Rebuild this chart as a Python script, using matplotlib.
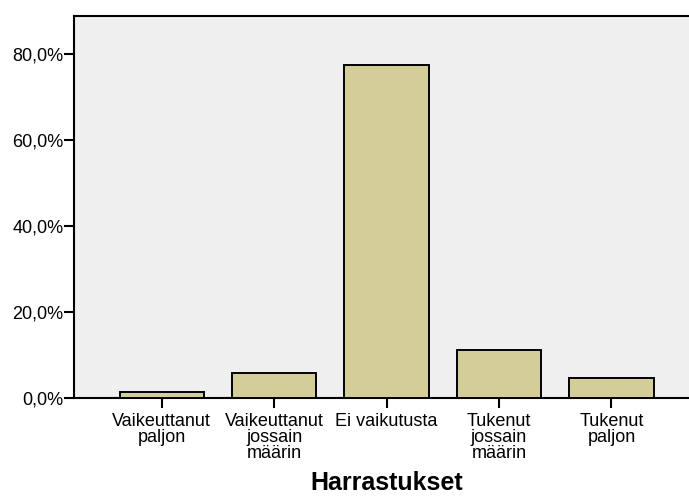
import matplotlib
matplotlib.use("Agg")
import matplotlib.pyplot as plt
from matplotlib.ticker import FuncFormatter

categories = ["Vaikeuttanut\npaljon", "Vaikeuttanut\njossain\nmäärin", "Ei vaikutusta",
              "Tukenut\njossain\nmäärin", "Tukenut\npaljon"]
percent = [1.3, 5.8, 77.3, 11.0, 4.6]
y_ticks = [0, 20, 40, 60, 80]
x_title = "Harrastukset"

plt.rcParams['font.family'] = ['Liberation Sans', 'DejaVu Sans']

fig = plt.figure(figsize=(6.89, 4.96), dpi=100)
ax = fig.add_axes([74/689, 1-397.7/496, 1-74/689, (397.7-15.5)/496])
ax.set_facecolor('#EFEFEF')

x = list(range(len(categories)))
ax.bar(x, percent, width=0.75, color='#D3CE98', edgecolor='black', linewidth=1.4, zorder=3)

ax.set_xlim(-0.78, 4.69)
ax.set_ylim(0, 88.9)
ax.set_yticks(y_ticks)
ax.yaxis.set_major_formatter(FuncFormatter(lambda v, p: f"{v:.1f}%".replace('.', ',')))
ax.set_xticks(x)
ax.set_xticklabels(categories, linespacing=0.95, va='top')

ax.tick_params(axis='both', direction='out', length=7.2, width=1.5, labelsize=13, colors='black')
ax.tick_params(axis='x', pad=3.5)
ax.tick_params(axis='y', pad=0.5)

for s in ['left', 'bottom', 'top']:
    ax.spines[s].set_linewidth(1.5)
    ax.spines[s].set_color('black')
ax.spines['right'].set_visible(False)

fig.text(386.5/689, 1-490/496, x_title, ha='center', va='baseline', fontsize=18, fontweight='bold')

fig.savefig("out.png", dpi=100)
